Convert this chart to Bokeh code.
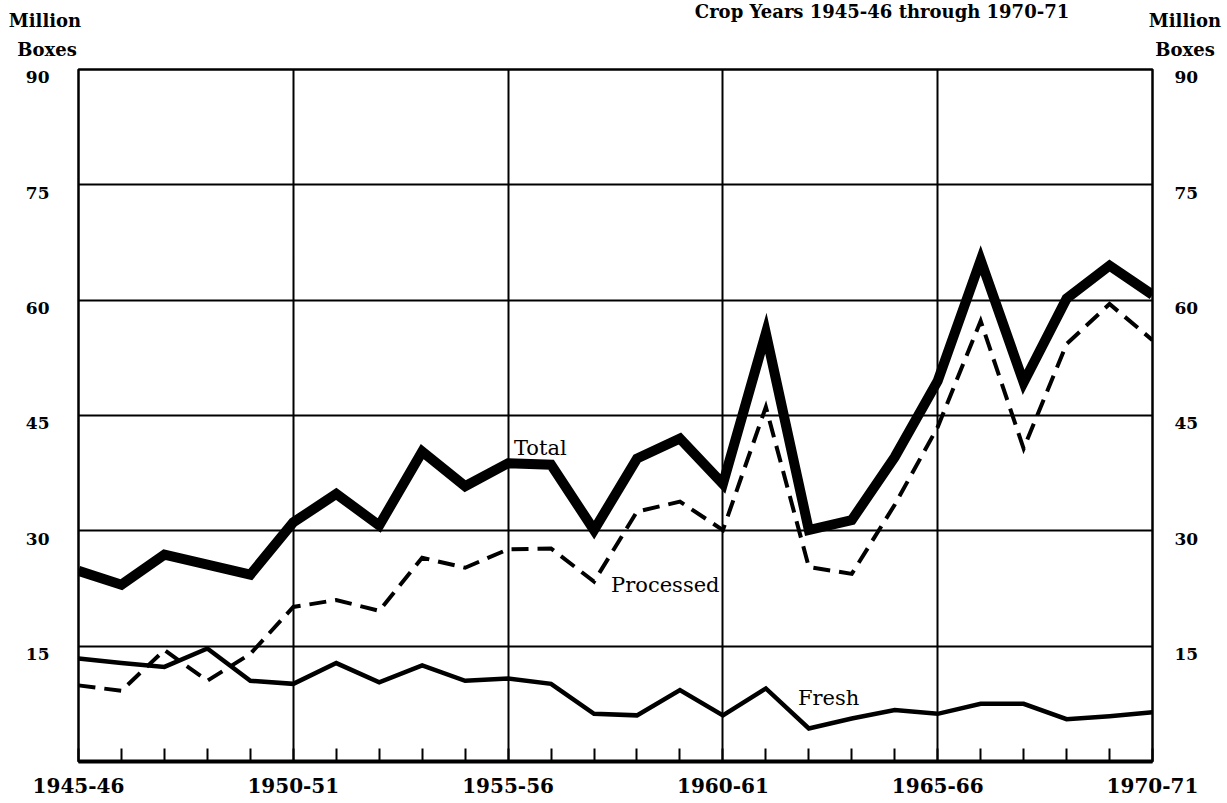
from bokeh.plotting import figure
from bokeh.layouts import column
from bokeh.models import Range1d, LinearAxis, FixedTicker, Grid, Label, Div
from bokeh.embed import file_html
from bokeh.resources import INLINE

# ---- data (million boxes, crop years 1945-46 .. 1970-71) ----
years = list(range(1945, 1971))
total = [24.8, 23.0, 26.9, 25.6, 24.3, 31.1, 34.8, 30.7, 40.3, 35.8,
         38.8, 38.6, 30.1, 39.4, 42.0, 36.1, 55.7, 30.1, 31.4, 39.6,
         49.5, 65.2, 49.3, 60.2, 64.5, 60.7]
processed = [9.9, 9.2, 14.5, 10.5, 14.0, 20.1, 21.0, 19.6, 26.5, 25.2,
             27.6, 27.7, 23.4, 32.5, 33.8, 30.1, 46.1, 25.3, 24.4, 33.4,
             43.5, 57.3, 40.7, 54.3, 59.5, 54.8]
fresh = [13.4, 12.8, 12.3, 14.7, 10.5, 10.1, 12.8, 10.3, 12.5, 10.5,
         10.8, 10.1, 6.2, 6.0, 9.3, 6.0, 9.5, 4.3, 5.6, 6.7,
         6.2, 7.5, 7.5, 5.5, 5.9, 6.4]

x_label_years = [1945, 1950, 1955, 1960, 1965, 1970]
x_tick_labels = ["1945-46", "1950-51", "1955-56", "1960-61", "1965-66", "1970-71"]
y_ticks = [15, 30, 45, 60, 75, 90]
y_grid = [15, 30, 45, 60, 75]
x_grid = [1950, 1955, 1960, 1965]

title_text = "Crop Years 1945-46 through 1970-71"
unit_lines = ["Million", "Boxes"]
series_names = ["Total", "Processed", "Fresh"]
series_label_pos = [(1955.75, 40.8), (1958.66, 23.0), (1962.46, 8.3)]

SERIF = "DejaVu Serif"
W = 1227
HEAD_H = 64

# ---- header strip (title and unit captions), positioned in page pixels ----
head_items = [(title_text, 882, 12), (unit_lines[0], 45, 21), (unit_lines[1], 47, 50),
              (unit_lines[0], 1185, 21), (unit_lines[1], 1185, 50)]
spans = "".join(
    f"<span style='position:absolute;left:{cx}px;top:{cy}px;"
    f"transform:translate(-50%,-50%);white-space:nowrap'>{t}</span>"
    for t, cx, cy in head_items)
head = Div(text=(f"<div style='position:relative;width:{W}px;height:{HEAD_H}px;"
                 f"font-family:\"{SERIF}\";font-weight:bold;font-size:18px;"
                 f"color:black;line-height:1;margin:0;padding:0'>{spans}</div>"),
           width=W, height=HEAD_H, margin=(0, 0, 0, 0))

# ---- main chart ----
p = figure(frame_width=1074, frame_height=692,
           x_range=Range1d(1945, 1970), y_range=Range1d(0, 90),
           x_axis_type=None, y_axis_type=None,
           output_backend="svg", toolbar_location=None,
           min_border_left=78, min_border_right=73,
           min_border_top=5, min_border_bottom=40)
p.outline_line_color = "black"
p.outline_line_width = 2.5
p.background_fill_color = "white"
p.border_fill_color = "white"

p.add_layout(Grid(dimension=1, ticker=FixedTicker(ticks=y_grid),
                  grid_line_color="black", grid_line_width=2))
p.add_layout(Grid(dimension=0, ticker=FixedTicker(ticks=x_grid),
                  grid_line_color="black", grid_line_width=2))

xaxis = LinearAxis(
    ticker=FixedTicker(ticks=x_label_years, minor_ticks=years),
    major_label_overrides={y: t for y, t in zip(x_label_years, x_tick_labels)},
    axis_line_width=4, axis_line_color="black",
    major_tick_in=0, major_tick_out=0,
    minor_tick_in=13, minor_tick_out=0, minor_tick_line_width=2,
    minor_tick_line_color="black",
    major_label_text_font=SERIF, major_label_text_font_style="bold",
    major_label_text_font_size="20px", major_label_text_color="black",
    major_label_standoff=16)
p.add_layout(xaxis, "below")

# value labels sit slightly below their gridlines, as in the original
p.extra_y_ranges = {"lbl": Range1d(1.0, 91.0)}
for side, standoff in [("left", 29), ("right", 22)]:
    ax = LinearAxis(y_range_name="lbl", ticker=FixedTicker(ticks=y_ticks),
                    axis_line_color=None, major_tick_in=0, major_tick_out=0,
                    major_tick_line_color=None, minor_tick_line_color=None,
                    major_label_text_font=SERIF, major_label_text_font_style="bold",
                    major_label_text_font_size="17px", major_label_text_color="black",
                    major_label_standoff=standoff)
    p.add_layout(ax, side)

p.line(years, fresh, line_color="black", line_width=4.5, line_join="miter")
p.line(years, processed, line_color="black", line_width=4, line_dash="17 9",
       line_join="miter")
p.line(years, total, line_color="black", line_width=10, line_join="miter")

for name, (lx, ly) in zip(series_names, series_label_pos):
    p.add_layout(Label(x=lx, y=ly, text=name, text_font=SERIF,
                       text_font_size="21px", text_align="center",
                       text_baseline="middle", text_color="black"))

layout = column(head, p, spacing=0)
open("out.html", "w").write(file_html(layout, INLINE))
